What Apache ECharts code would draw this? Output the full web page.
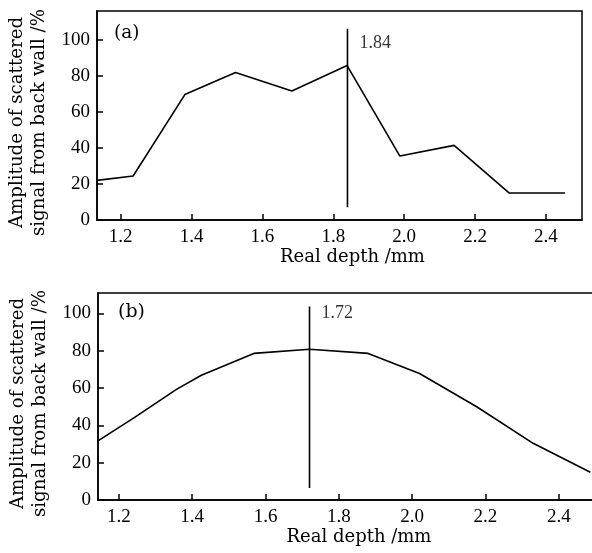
<!DOCTYPE html>
<html><head><meta charset="utf-8">
<script src="https://cdn.jsdelivr.net/npm/echarts@6/dist/echarts.min.js"></script>
<style>html,body{margin:0;padding:0;background:#fff}#c{width:592px;height:553px}</style>
</head><body><div id="c"></div>
<script>
// Panel (a)
const depthA = [1.133, 1.235, 1.381, 1.524, 1.683, 1.839, 1.988, 2.141, 2.296, 2.454];
const ampA   = [22.0, 24.4, 69.6, 81.9, 71.6, 85.7, 35.5, 41.4, 15.0, 15.0];
const markA = 1.84;
const markRangeA = [7.1, 106.2];
const markLabelYA = 98;
// Panel (b)
const depthB = [1.143, 1.243, 1.357, 1.425, 1.568, 1.72, 1.88, 2.02, 2.176, 2.33, 2.486];
const ampB   = [31.7, 44.3, 59.3, 66.9, 78.6, 80.8, 78.6, 67.8, 50.0, 30.4, 14.9];
const markB = 1.72;
const markRangeB = [6.5, 103.7];
const markLabelYB = 100.4;
// Axes
const yTicks = [0, 20, 40, 60, 80, 100];
const xTicks = [1.2, 1.4, 1.6, 1.8, 2.0, 2.2, 2.4];
const xTitle = 'Real depth /mm';
const yTitle = 'Amplitude of scattered\nsignal from back wall /%';
const panelLabels = ['(a)', '(b)'];

const numFont = 'Liberation Serif';
const txtFont = 'DejaVu Serif';
const ink = '#000';

function xAxisCfg(gi, min, max, gap) {
  return {
    type: 'value', gridIndex: gi, min: min, max: max,
    minInterval: xTicks[1] - xTicks[0], maxInterval: xTicks[1] - xTicks[0], splitNumber: 7,
    axisLine: {show: true, onZero: false, lineStyle: {color: '#000', width: 1.5}},
    axisTick: {show: true, inside: true, length: 6, lineStyle: {color: '#000', width: 1.5}},
    axisLabel: {showMinLabel: false, showMaxLabel: false, color: ink, fontFamily: numFont, fontSize: 19, margin: 8,
      formatter: v => v.toFixed(1)},
    splitLine: {show: false},
    name: xTitle, nameLocation: 'middle', nameGap: gap,
    nameTextStyle: {fontFamily: txtFont, fontSize: 18, color: ink, padding: [0, 0, 0, 26]}
  };
}
function yAxisCfg(gi, max) {
  return {
    type: 'value', gridIndex: gi, min: yTicks[0], max: max, interval: yTicks[1] - yTicks[0],
    axisLine: {show: true, lineStyle: {color: '#000', width: 1.5}},
    axisTick: {show: true, inside: true, length: 6, lineStyle: {color: '#000', width: 1.5}},
    axisLabel: {showMaxLabel: false, color: ink, fontFamily: numFont, fontSize: 19, margin: 7},
    splitLine: {show: false},
    name: yTitle, nameLocation: 'middle', nameGap: 37,
    nameTextStyle: {fontFamily: txtFont, fontSize: 18.2, color: ink, lineHeight: 22, padding: [0, 14, 0, 0]}
  };
}
function curve(gi, xs, ys) {
  return {type: 'line', xAxisIndex: gi, yAxisIndex: gi, data: xs.map((x, i) => [x, ys[i]]),
    symbol: 'none', lineStyle: {color: '#000', width: 1.6}, silent: true, animation: false, z: 3};
}
function vline(gi, x, range) {
  return {type: 'line', xAxisIndex: gi, yAxisIndex: gi, data: range.map(y => [x, y]),
    symbol: 'none', lineStyle: {color: '#000', width: 1.6}, silent: true, animation: false, z: 3};
}
function vlabel(gi, x, y) {
  return {type: 'scatter', xAxisIndex: gi, yAxisIndex: gi, data: [[x, y]], symbolSize: 0.1,
    itemStyle: {color: 'rgba(0,0,0,0)'}, silent: true, animation: false,
    label: {show: true, position: 'right', distance: 12, formatter: () => x.toFixed(2),
      fontFamily: numFont, fontSize: 18, color: ink}};
}

const chart = echarts.init(document.getElementById('c'), null, {renderer: 'canvas'});
chart.setOption({
  backgroundColor: '#fff',
  animation: false,
  title: [
    {text: panelLabels[0], left: 114, top: 24, padding: 0,
     textStyle: {fontFamily: txtFont, fontSize: 18.5, fontWeight: 'normal', color: ink}},
    {text: panelLabels[1], left: 118, top: 303, padding: 0,
     textStyle: {fontFamily: txtFont, fontSize: 19, fontWeight: 'normal', color: ink}}
  ],
  grid: [
    {left: 97, right: 10, top: 11, bottom: 333, show: true, borderColor: '#000', borderWidth: 1.5,
     containLabel: false, outerBoundsMode: 'none'},
    {left: 98, right: -2, top: 293, bottom: 53, show: true, borderColor: '#000', borderWidth: 1.5,
     containLabel: false, outerBoundsMode: 'none'}
  ],
  xAxis: [xAxisCfg(0, 1.133, 2.502, 27), xAxisCfg(1, 1.143, 2.496, 26)],
  yAxis: [yAxisCfg(0, 116), yAxisCfg(1, 111)],
  series: [
    curve(0, depthA, ampA), vline(0, markA, markRangeA), vlabel(0, markA, markLabelYA),
    curve(1, depthB, ampB), vline(1, markB, markRangeB), vlabel(1, markB, markLabelYB)
  ]
});
</script>
</body></html>
